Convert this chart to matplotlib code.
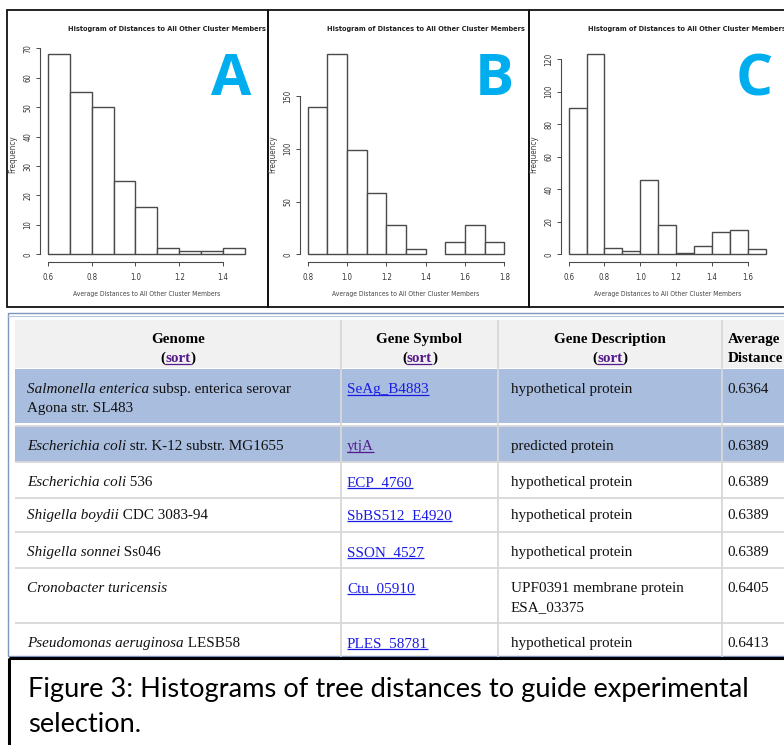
import numpy as np
import matplotlib
matplotlib.use("Agg")
import matplotlib.pyplot as plt
from matplotlib.patches import Rectangle
from matplotlib import font_manager

# ---------------- data ----------------
hist_title = "Histogram of Distances to All Other Cluster Members"
hist_xlabel = "Average Distances to All Other Cluster Members"
hist_ylabel = "Frequency"
panel_letters = ["A", "B", "C"]

a_edges = [0.6, 0.7, 0.8, 0.9, 1.0, 1.1, 1.2, 1.3, 1.4, 1.5]
a_counts = [68, 55, 50, 25, 16, 2, 1, 1, 2]
a_xticks = [0.6, 0.8, 1.0, 1.2, 1.4]
a_yticks = [0, 10, 20, 30, 40, 50, 60, 70]

b_edges = [0.8, 0.9, 1.0, 1.1, 1.2, 1.3, 1.4, 1.5, 1.6, 1.7, 1.8]
b_counts = [140, 190, 99, 58, 28, 5, 0, 12, 28, 12]
b_xticks = [0.8, 1.0, 1.2, 1.4, 1.6, 1.8]
b_yticks = [0, 50, 100, 150]

c_edges = [0.6, 0.7, 0.8, 0.9, 1.0, 1.1, 1.2, 1.3, 1.4, 1.5, 1.6, 1.7]
c_counts = [90, 123, 4, 2, 46, 18, 1, 5, 14, 15, 3]
c_xticks = [0.6, 0.8, 1.0, 1.2, 1.4, 1.6]
c_yticks = [0, 20, 40, 60, 80, 100, 120]

table_headers = [["Genome"], ["Gene Symbol"], ["Gene Description"], ["Average", "Distance"]]
genome_species = ["Salmonella enterica", "Escherichia coli", "Escherichia coli",
                  "Shigella boydii", "Shigella sonnei", "Cronobacter turicensis",
                  "Pseudomonas aeruginosa"]
genome_strain = [" subsp. enterica serovar\nAgona str. SL483", " str. K-12 substr. MG1655",
                 " 536", " CDC 3083-94", " Ss046", "", " LESB58"]
gene_symbols = ["SeAg_B4883", "ytjA", "ECP_4760", "SbBS512_E4920", "SSON_4527",
                "Ctu_05910", "PLES_58781"]
gene_visited = [False, True, False, False, False, False, False]
gene_desc = ["hypothetical protein", "predicted protein", "hypothetical protein",
             "hypothetical protein", "hypothetical protein",
             "UPF0391 membrane protein\nESA_03375", "hypothetical protein"]
avg_distance = [0.6364, 0.6389, 0.6389, 0.6389, 0.6389, 0.6405, 0.6413]
highlighted = [True, True, False, False, False, False, False]

caption_lines = ["Figure 3: Histograms of tree distances to guide experimental",
                 "selection."]

# ---------------- setup ----------------
W, H = 784, 745
fig = plt.figure(figsize=(W / 100, H / 100), dpi=100)
ttf = font_manager.fontManager.ttflist
NARROW_STRETCH = ("condensed", "semi-condensed", "extra-condensed", "ultra-condensed")


def is_bold(f):
    w = f.weight
    if isinstance(w, str):
        w = font_manager.weight_dict.get(w, 400)
    return w >= 600


def pick_font(bases, stretches, bold=False):
    for base in bases:
        for st in stretches:
            for f in ttf:
                if not f.name.startswith(base):
                    continue
                fst = f.stretch if isinstance(f.stretch, str) else "normal"
                narrow_name = ("Narrow" in f.name) or ("Condensed" in f.name)
                ok = (fst == st) or (st == "condensed" and narrow_name)
                if ok and is_bold(f) == bold and f.style == "normal":
                    return dict(family=f.name, fontstretch=fst)
    return None


HIST_REG = pick_font(["Liberation Sans", "Arimo", "DejaVu Sans", "Noto Sans", "Roboto"],
                     ["condensed", "semi-condensed"]) or dict(family="Liberation Sans")
HIST_BOLD = pick_font(["Liberation Sans", "Arimo", "DejaVu Sans", "Noto Sans", "Roboto"],
                      ["condensed", "semi-condensed"], bold=True) or dict(family="Liberation Sans")
CAP_FONT = pick_font(["Noto Sans", "Open Sans", "DejaVu Sans"],
                     ["semi-condensed"]) or dict(family="Lato")
SERIF = "Liberation Serif"
LETTERF = "Open Sans"
renderer = fig.canvas.get_renderer()

ov = fig.add_axes([0, 0, 1, 1], zorder=0)
ov.set_xlim(0, W)
ov.set_ylim(H, 0)
ov.axis("off")
ov.patch.set_alpha(0)


def fit_width(t, target):
    w = t.get_window_extent(renderer).width
    t.set_fontsize(t.get_fontsize() * target / w)


def px_axes(x0, y0, x1, y1, **kw):
    return fig.add_axes([x0 / W, 1 - y1 / H, (x1 - x0) / W, (y1 - y0) / H], **kw)


# ---------------- histogram panels ----------------
panel_frames = [(7, 268), (268, 529), (529, 800)]
hist_boxes = [(40.1, 46.2, 252.75, 262.3), (299.8, 45.8, 512.2, 262.3), (560.8, 46.4, 773.5, 262.3)]
hist_data = [(a_edges, a_counts, a_xticks, a_yticks),
             (b_edges, b_counts, b_xticks, b_yticks),
             (c_edges, c_counts, c_xticks, c_yticks)]
AX_COL = "#4a4a4a"

for i, ((fx0, fx1), box, (edges, counts, xt, yt)) in enumerate(zip(panel_frames, hist_boxes, hist_data)):
    frame = Rectangle((fx0, 10), fx1 - fx0, 297, fill=False, edgecolor="#111111", lw=1.3)
    ov.add_patch(frame)
    clip = Rectangle((fx0, 10), fx1 - fx0 - 1, 297, fill=False, visible=False)
    ov.add_patch(clip)

    ax = px_axes(*box, zorder=1)
    ax.patch.set_alpha(0)
    edges = np.asarray(edges)
    counts = np.asarray(counts)
    ecols = [AX_COL if c > 0 else "none" for c in counts]
    ax.bar(edges[:-1], counts, width=np.diff(edges), align="edge",
           facecolor="white", edgecolor=ecols, linewidth=1.0)
    rng = edges[-1] - edges[0]
    ax.set_xlim(edges[0] - 0.04 * rng, edges[-1] + 0.04 * rng)
    ax.set_ylim(-0.04 * counts.max(), counts.max() * 1.04)
    for s in ["top", "right"]:
        ax.spines[s].set_visible(False)
    ax.spines["left"].set_bounds(yt[0], yt[-1])
    ax.spines["bottom"].set_bounds(xt[0], xt[-1])
    for s in ["left", "bottom"]:
        ax.spines[s].set_color(AX_COL)
        ax.spines[s].set_linewidth(0.8)
    ax.set_xticks(xt)
    ax.set_xticklabels([f"{v:.1f}" for v in xt], fontsize=5.6, color="#333333", **HIST_REG)
    ax.set_yticks(yt)
    ax.set_yticklabels([str(v) for v in yt], fontsize=5.6, color="#333333",
                       rotation=90, va="center", **HIST_REG)
    ax.tick_params(axis="both", length=2.6, width=0.7, color=AX_COL)
    ax.tick_params(axis="x", pad=5.2)
    ax.tick_params(axis="y", pad=2.8)

    ax_l, ax_t, ax_r, ax_b = box
    t = ov.text(ax_l + 27.5, 28.5, hist_title, ha="left", va="center", fontsize=7,
                fontweight="bold", color="#222222", **HIST_BOLD)
    fit_width(t, 200)
    t.set_clip_path(clip)
    t = ov.text((ax_l + ax_r) / 2, 294, hist_xlabel, ha="center", va="center",
                fontsize=6, color="#444444", **HIST_REG)
    fit_width(t, 148)
    t = ov.text(ax_l - 27.4, (ax_t + ax_b) / 2, hist_ylabel, ha="center", va="center",
                rotation=90, fontsize=6, color="#444444", **HIST_REG)
    fit_width_target = 38
    bb = t.get_window_extent(renderer)
    t.set_fontsize(t.get_fontsize() * fit_width_target / bb.height)
    ov.text([231.5, 494, 754][i], 95, panel_letters[i], ha="center", va="baseline",
            fontsize=42, fontweight="bold", family=LETTERF, color="#00AEEF")

# ---------------- table ----------------
col_x = [15, 341, 498, 722, 800]
header_y = (320, 368)
row_spans = [(369, 423), (426, 462), (462, 498), (498, 532), (532, 568), (568, 623), (623, 657)]
row_base = [392.7, 450, 486, 519, 555.7, 592.3, 647.3]
LINE = 19
FS = 10.9
BLUE = "#A9BEDF"
GRID = "#D8D8D8"

ov.add_patch(Rectangle((col_x[0], header_y[0]), 800, header_y[1] - header_y[0],
                       facecolor="#F1F1F1", edgecolor="none"))
for (y0, y1), hl in zip(row_spans, highlighted):
    if hl:
        ov.add_patch(Rectangle((col_x[0], y0), 800, y1 - y0, facecolor=BLUE, edgecolor="none"))
for (y0, y1), hl in zip(row_spans[1:], highlighted[1:]):
    ov.plot([col_x[0], 800], [y0, y0], color=GRID, lw=1.3, solid_capstyle="butt")
for cx in col_x[1:4]:
    ov.plot([cx, cx], [header_y[0], 657], color=GRID, lw=1.3, solid_capstyle="butt")
# outer border
ov.add_patch(Rectangle((8.5, 313), 800, 343, fill=False, edgecolor="#7F96BD", lw=1.0))
ov.plot([8.5, 800], [315.5, 315.5], color="#B8C6DD", lw=0.8)


def runs(x, y, items, ha="left", size=FS):
    objs, widths = [], []
    for txt, kw in items:
        t = ov.text(0, y, txt, va="baseline", ha="left", fontsize=size, family=SERIF, **kw)
        objs.append(t)
        widths.append(t.get_window_extent(renderer).width)
    cur = x - sum(widths) / 2 if ha == "center" else x
    for t, w in zip(objs, widths):
        t.set_x(cur)
        cur += w
    return objs


def underline(t, y, color):
    bb = t.get_window_extent(renderer)
    ov.plot([bb.x0, bb.x1], [y + 1.8, y + 1.8], color=color, lw=0.9, solid_capstyle="butt")


PURPLE = "#551A8B"
LINK = "#1A1AE6"
header_base = 343.3
for j, hdr in enumerate(table_headers):
    if j < 3:
        cx = (col_x[j] + col_x[j + 1]) / 2
        runs(cx, header_base, [(hdr[0], dict(fontweight="bold", color="black"))], ha="center")
        objs = runs(cx, header_base + LINE, [("(", dict(fontweight="bold", color="black")),
                                             ("sort", dict(fontweight="bold", color=PURPLE)),
                                             (")", dict(fontweight="bold", color="black"))],
                    ha="center")
        underline(objs[1], header_base + LINE, PURPLE)
    else:
        for k, line in enumerate(hdr):
            runs(col_x[j] + 6, header_base + k * LINE, [(line, dict(fontweight="bold", color="black"))])

for r in range(len(genome_species)):
    yb = row_base[r]
    strain_lines = genome_strain[r].split("\n")
    items = [(genome_species[r], dict(style="italic", color="#111111"))]
    if strain_lines[0]:
        items.append((strain_lines[0], dict(color="#111111")))
    runs(27, yb, items)
    for k, extra in enumerate(strain_lines[1:], start=1):
        runs(27, yb + k * LINE, [(extra, dict(color="#111111"))])
    lc = PURPLE if gene_visited[r] else LINK
    t = runs(347, yb, [(gene_symbols[r], dict(color=lc))])[0]
    underline(t, yb, lc)
    for k, line in enumerate(gene_desc[r].split("\n")):
        runs(511, yb + k * LINE, [(line, dict(color="#111111"))])
    runs(727, yb, [(f"{avg_distance[r]:.4f}", dict(color="#111111"))])

# ---------------- caption ----------------
ov.add_patch(Rectangle((9, 658), 800, 120, fill=False, edgecolor="black", lw=2.2))
t1 = ov.text(28, 697, caption_lines[0], ha="left", va="baseline", fontsize=18,
             color="black", **CAP_FONT)
fit_width(t1, 720)
ov.text(28, 732, caption_lines[1], ha="left", va="baseline", fontsize=t1.get_fontsize(),
        color="black", **CAP_FONT)

fig.savefig("out.png", dpi=100)
